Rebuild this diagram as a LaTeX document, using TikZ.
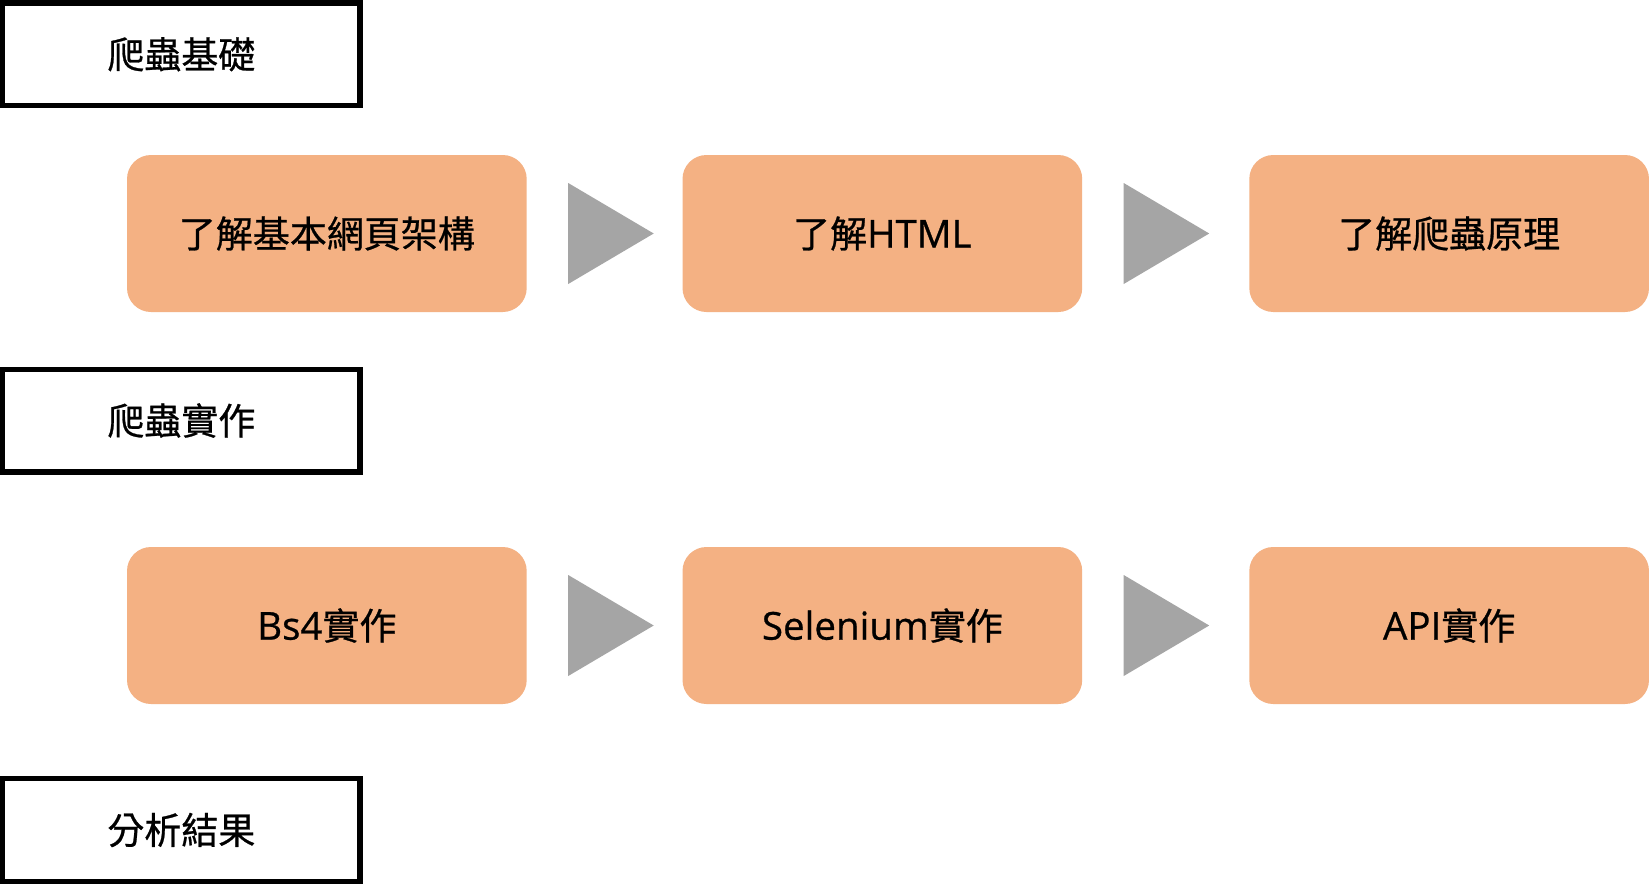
\documentclass[tikz,border=0pt]{standalone}
\usepackage{fontspec}
\setmainfont[FakeBold=0.7]{Noto Sans CJK TC}
\newfontfamily\latfont[FakeBold=0.7]{Open Sans}
\newcommand\lat{\latfont\fontsize{38.5}{44}\selectfont}
\usetikzlibrary{calc}
\definecolor{boxorange}{HTML}{F4B183}
\definecolor{trigray}{HTML}{A5A5A5}
\tikzset{
  stagebox/.style={rectangle, draw=black, line width=5.3pt, fill=white,
    minimum width=357.4pt, minimum height=102.7pt, inner sep=0pt, outer sep=0pt,
    font=\fontsize{37}{44}\selectfont},
  stepbox/.style={rectangle, rounded corners=24pt, fill=boxorange, draw=none,
    minimum width=399.7pt, minimum height=157pt, inner sep=0pt, outer sep=0pt,
    font=\fontsize{37}{44}\selectfont},
  tri/.style={fill=trigray, draw=none}
}
\newcommand\triafter[1]{\fill[tri] ($(#1.east)+(41.5,-50.5)$) -- ($(#1.east)+(41.5,50.5)$) -- ($(#1.east)+(127,0)$) -- cycle;}
\begin{document}
\begin{tikzpicture}[x=1pt,y=-1pt]
\useasboundingbox[fill=white] (0,0) rectangle (1649,884);
% stage labels
\node[stagebox] (s1) at (181.35,54.3) {爬蟲基礎};
\node[stagebox] (s2) at (181.35,420.5) {爬蟲實作};
\node[stagebox] (s3) at (181.35,830) {分析結果};
% row 1
\node[stepbox] (a1) at (326.85,233.5) {了解基本網頁架構};
\node[stepbox] (a2) at (882.35,233.5) {了解{\lat HTML}};
\node[stepbox] (a3) at (1449.15,233.5) {了解爬蟲原理};
% row 2
\node[stepbox] (b1) at (326.85,625.5) {{\lat Bs4}實作};
\node[stepbox] (b2) at (882.35,625.5) {{\lat Selenium}實作};
\node[stepbox] (b3) at (1449.15,625.5) {{\lat API}實作};
% arrows
\triafter{a1}
\triafter{a2}
\triafter{b1}
\triafter{b2}
\end{tikzpicture}
\end{document}
